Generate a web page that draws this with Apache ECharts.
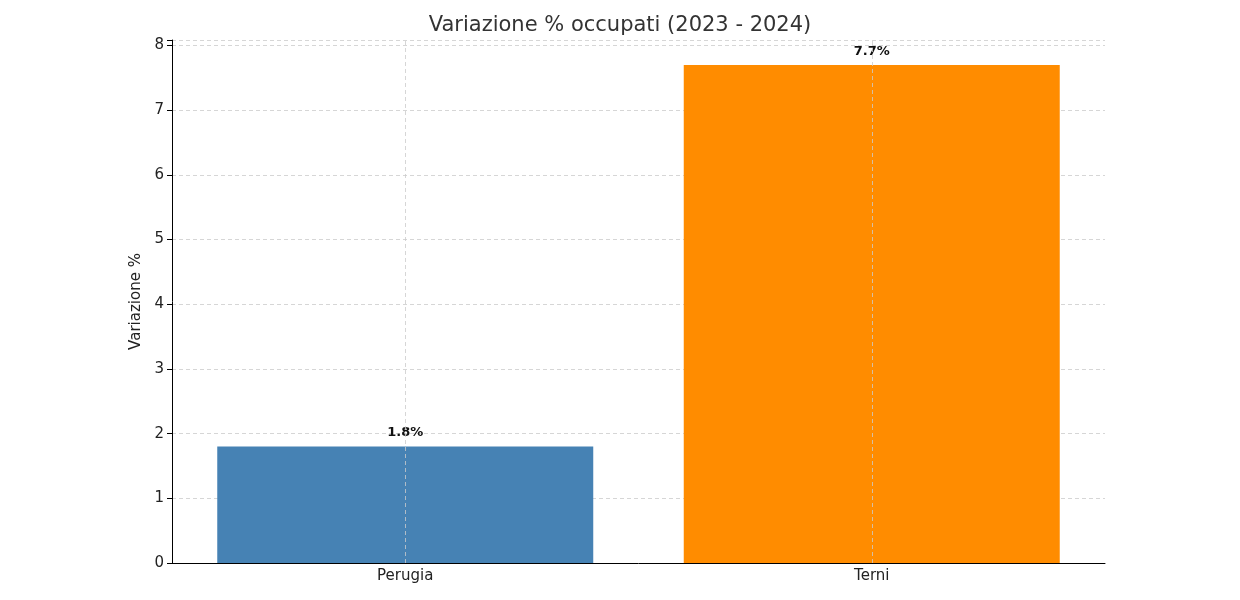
<!DOCTYPE html>
<html>
<head>
<meta charset="utf-8">
<script src="https://cdn.jsdelivr.net/npm/echarts@6/dist/echarts.min.js"></script>
<style>html,body{margin:0;padding:0;background:#fff}#chart{width:1240px;height:600px}</style>
</head>
<body>
<div id="chart"></div>
<script>
var categories = ['Perugia', 'Terni'];
var values = [1.8, 7.7];
var barColors = ['#4682b4', '#ff8c00'];
var yTicks = [0, 1, 2, 3, 4, 5, 6, 7, 8];

var chart = echarts.init(document.getElementById('chart'));
var gridLine = { color: '#cccccc', type: [4, 3], width: 0.8 };
chart.setOption({
  animation: false,
  textStyle: { fontFamily: 'DejaVu Sans' },
  title: {
    text: 'Variazione % occupati (2023 - 2024)',
    left: 'center', top: 10,
    textStyle: { fontSize: 21, fontWeight: 'normal', color: '#333' }
  },
  grid: { left: 172, right: 135, top: 40, bottom: 37 },
  xAxis: {
    type: 'category',
    data: categories,
    axisLine: { lineStyle: { color: '#000' } },
    axisTick: { alignWithLabel: true, length: 5, lineStyle: { color: '#000' } },
    axisLabel: { color: '#222', fontSize: 15, margin: 6 },
    splitLine: { show: false }
  },
  yAxis: {
    type: 'value',
    min: 0, max: 8.085, interval: 1,
    name: 'Variazione %',
    nameLocation: 'middle', nameGap: 28,
    nameTextStyle: { fontSize: 15, color: '#222' },
    axisLine: { show: true, lineStyle: { color: '#000' } },
    axisTick: { show: true, length: 5, lineStyle: { color: '#000' } },
    axisLabel: {
      color: '#222', fontSize: 15, margin: 8,
      formatter: function (v) { return yTicks.indexOf(v) >= 0 ? String(v) : ''; }
    },
    splitLine: { show: true, lineStyle: gridLine }
  },
  series: [{
    type: 'bar',
    barWidth: '80.6%',
    data: values.map(function (v, i) {
      return { value: v, itemStyle: { color: barColors[i] } };
    }),
    label: {
      show: true, position: 'top', distance: 7,
      formatter: function (p) { return p.value + '%'; },
      fontWeight: 'bold', fontSize: 13, color: '#111'
    },
    markLine: {
      silent: true, symbol: 'none', label: { show: false },
      lineStyle: gridLine,
      data: categories.map(function (c) { return { xAxis: c }; })
    },
    z: 1
  }]
});
</script>
</body>
</html>
